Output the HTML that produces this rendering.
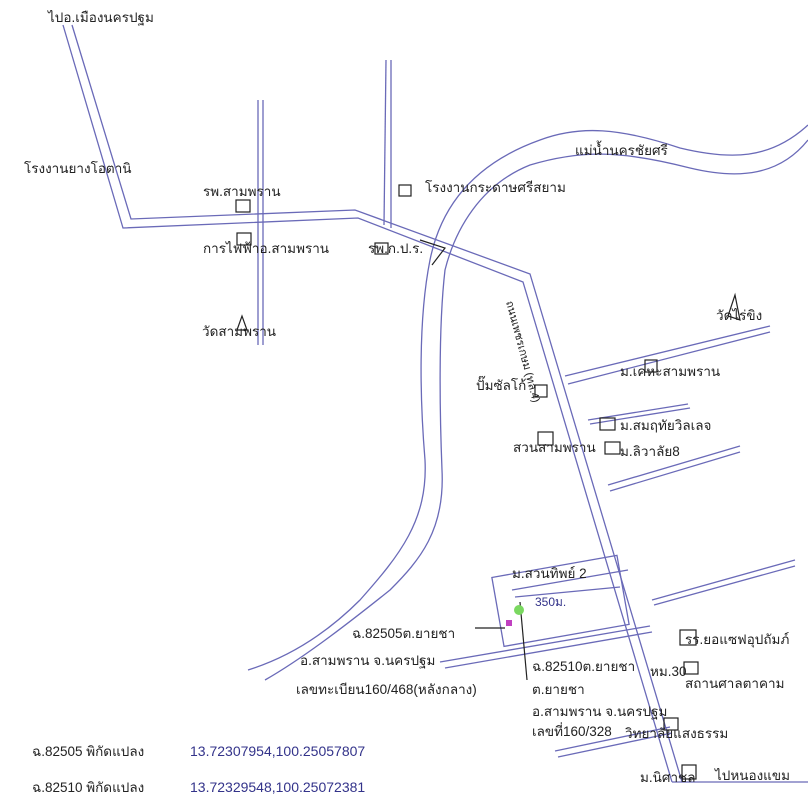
<!DOCTYPE html>
<html><head><meta charset="utf-8"><style>
html,body{margin:0;padding:0;background:#fff;}
svg{display:block}
text{font-family:"Liberation Sans","Noto Sans CJK SC",sans-serif;font-size:13.5px;fill:#222;}
.b{fill:#33338a;font-size:14px}
</style></head><body>
<svg width="808" height="800" viewBox="0 0 808 800" xmlns="http://www.w3.org/2000/svg">
<g fill="none" stroke="#6a6ab8" stroke-width="1.3">
<polyline points="63,25 123,228 358,218 523,282 672,782"/>
<polyline points="72,25 131,219 355,210 530,274 682,782"/>
<line x1="258" y1="100" x2="258" y2="345"/><line x1="263" y1="100" x2="263" y2="345"/>
<line x1="386" y1="60" x2="384" y2="225"/><line x1="391" y1="60" x2="391" y2="228"/>
<path d="M808,125 C770,160 730,160 680,148 C620,128 580,125 540,140 C470,165 440,210 430,260 C418,320 420,400 425,460 C428,520 400,555 360,600 C320,640 280,660 248,670"/>
<path d="M808,140 C780,175 740,180 690,168 C620,150 580,150 530,165 C480,185 455,230 445,270 C438,330 440,420 442,470 C445,530 420,560 390,590 C340,630 300,660 265,680"/>
<line x1="565" y1="376" x2="770" y2="326"/><line x1="568" y1="384" x2="770" y2="332"/>
<line x1="588" y1="420" x2="688" y2="404"/><line x1="590" y1="424" x2="690" y2="408"/>
<line x1="608" y1="485" x2="740" y2="446"/><line x1="610" y1="491" x2="740" y2="452"/>
<line x1="652" y1="600" x2="795" y2="560"/><line x1="654" y1="605" x2="795" y2="566"/>
<line x1="440" y1="662" x2="650" y2="626"/><line x1="445" y1="668" x2="652" y2="632"/>
<line x1="555" y1="751" x2="670" y2="727"/><line x1="558" y1="757" x2="672" y2="733"/>
<line x1="672" y1="782" x2="808" y2="782"/>
<rect x="497" y="566" width="127" height="70" transform="rotate(-10 560 601)"/>
<line x1="512" y1="590" x2="628" y2="570"/><line x1="515" y1="597" x2="620" y2="587"/>
</g>
<g fill="none" stroke="#222" stroke-width="1.2">
<rect x="236" y="200" width="14" height="12"/>
<rect x="237" y="233" width="14" height="12"/>
<rect x="399" y="185" width="12" height="11"/>
<rect x="375" y="243" width="13" height="11"/>
<path d="M237,330 L242,316 L247,330 Z"/>
<path d="M735,295 L740,320 L728,316 Z"/>
<rect x="535" y="385" width="12" height="12"/>
<rect x="645" y="360" width="12" height="12"/>
<rect x="600" y="418" width="15" height="12"/>
<rect x="605" y="442" width="15" height="12"/>
<rect x="538" y="432" width="15" height="13"/>
<rect x="680" y="630" width="16" height="15"/>
<rect x="684" y="662" width="14" height="12"/>
<rect x="664" y="718" width="14" height="12"/>
<rect x="682" y="765" width="14" height="14"/>
<line x1="475" y1="628" x2="505" y2="628"/><line x1="520" y1="602" x2="527" y2="680"/>
<path d="M420,240 L445,248 L432,265"/>
</g>
<rect x="506" y="620" width="6" height="6" fill="#c040c0"/>
<circle cx="519" cy="610" r="5" fill="#7ad860"/>
<text x="48" y="22">ไปอ.เมืองนครปฐม</text>
<text x="24" y="173">โรงงานยางโอตานิ</text>
<text x="203" y="196">รพ.สามพราน</text>
<text x="203" y="253">การไฟฟ้าอ.สามพราน</text>
<text x="202" y="336">วัดสามพราน</text>
<text x="425" y="192">โรงงานกระดาษศรีสยาม</text>
<text x="368" y="253">รพ.ก.ป.ร.</text>
<text x="575" y="155">แม่น้ำนครชัยศรี</text>
<text x="716" y="320">วัดไร่ขิง</text>
<text x="476" y="390">ปั๊มซัลโก้</text>
<text x="620" y="376">ม.เคหะสามพราน</text>
<text x="620" y="430">ม.สมฤทัยวิลเลจ</text>
<text x="513" y="452">สวนสามพราน</text>
<text x="620" y="456">ม.ลิวาลัย8</text>
<text x="506" y="302" transform="rotate(75 506 302)" style="font-size:11px">ถนนเพชรเกษม (ทล.4)</text>
<text x="512" y="578">ม.สวนทิพย์ 2</text>
<text x="535" y="606" class="b" style="font-size:12px">350ม.</text>
<text x="352" y="638">ฉ.82505ต.ยายชา</text>
<text x="300" y="665">อ.สามพราน  จ.นครปฐม</text>
<text x="296" y="694">เลขทะเบียน160/468(หลังกลาง)</text>
<text x="532" y="671">ฉ.82510ต.ยายชา</text>
<text x="532" y="694">ต.ยายชา</text>
<text x="532" y="716">อ.สามพราน  จ.นครปฐม</text>
<text x="532" y="736">เลขที่160/328</text>
<text x="650" y="676">หม.30</text>
<text x="685" y="644">รร.ยอแซฟอุปถัมภ์</text>
<text x="685" y="688">สถานศาลตาคาม</text>
<text x="625" y="738">วิทยาลัยแสงธรรม</text>
<text x="640" y="782">ม.นิศาชล</text>
<text x="715" y="780">ไปหนองแขม</text>
<text x="32" y="756">ฉ.82505 พิกัดแปลง</text>
<text x="190" y="756" class="b">13.72307954,100.25057807</text>
<text x="32" y="792">ฉ.82510 พิกัดแปลง</text>
<text x="190" y="792" class="b">13.72329548,100.25072381</text>
</svg>
</body></html>
